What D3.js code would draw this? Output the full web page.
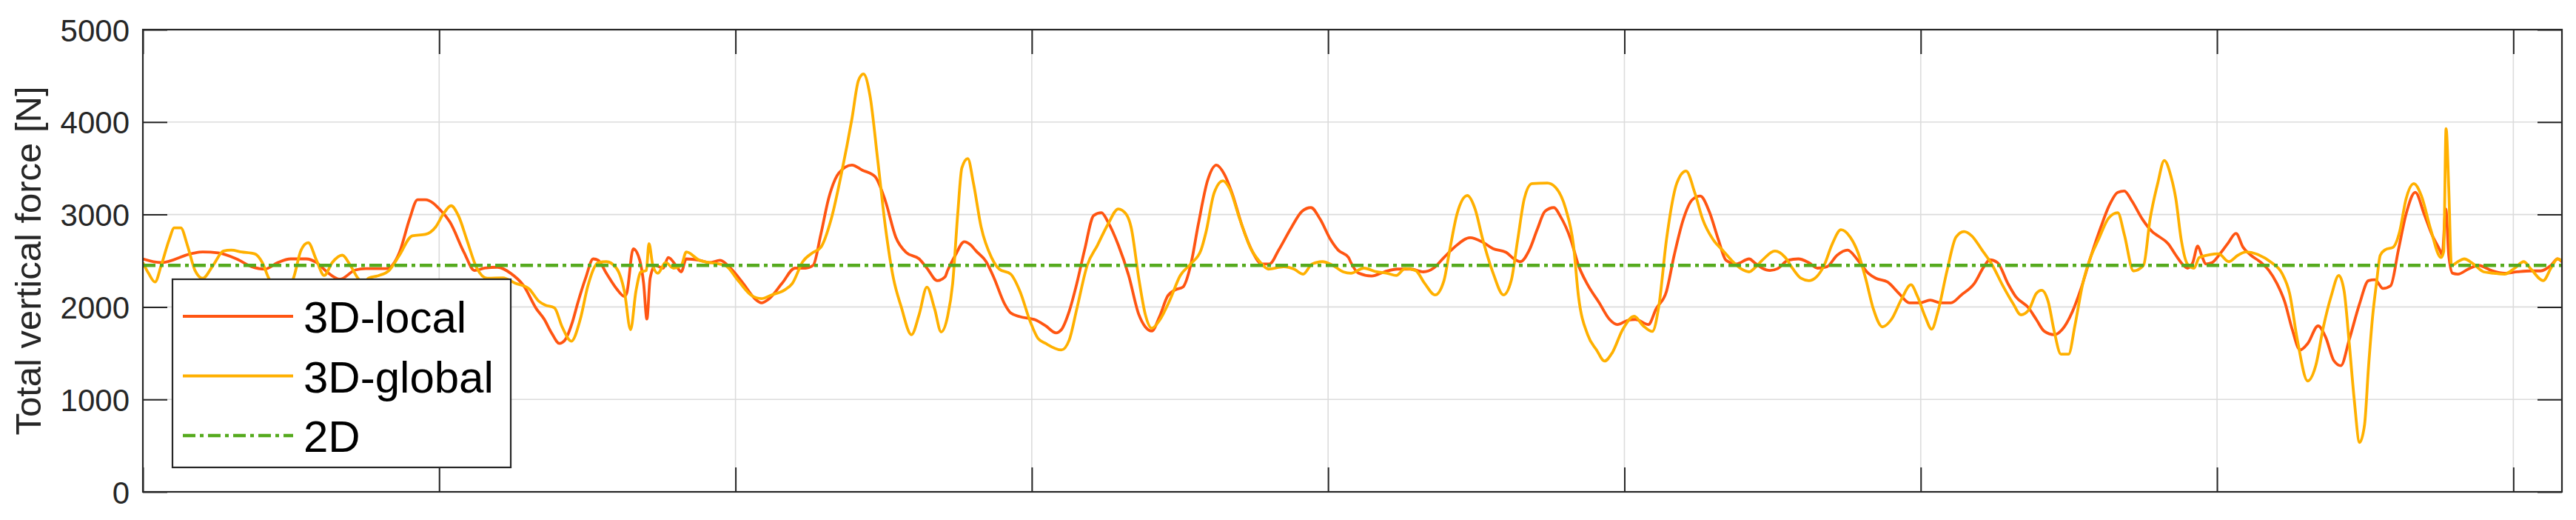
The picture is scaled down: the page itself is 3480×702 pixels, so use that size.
<!DOCTYPE html>
<html>
<head>
<meta charset="utf-8">
<script src="https://cdn.jsdelivr.net/npm/d3@7"></script>
<style>
  html, body { margin: 0; padding: 0; background: #ffffff; }
  svg { display: block; }
  text { font-family: "Liberation Sans", Arial, Helvetica, sans-serif; }
</style>
</head>
<body>
<svg id="chart" width="3480" height="702"></svg>
<script>
// ---------------- data ----------------
const seriesNames = ["3D-local", "3D-global", "2D"];

const localX = [0.000,0.062,0.167,0.202,0.254,0.316,0.368,0.412,0.455,0.499,0.551,0.586,0.621,0.665,0.717,0.752,0.822,0.866,0.900,0.927,0.953,1.005,1.036,1.084,1.119,1.154,1.197,1.241,1.285,1.328,1.354,1.380,1.406,1.424,1.450,1.467,1.494,1.520,1.537,1.564,1.598,1.625,1.633,1.655,1.677,1.690,1.701,1.712,1.729,1.756,1.773,1.799,1.817,1.834,1.878,1.913,1.948,1.983,2.026,2.070,2.087,2.114,2.157,2.201,2.236,2.262,2.288,2.314,2.349,2.393,2.428,2.471,2.506,2.541,2.576,2.620,2.646,2.681,2.707,2.716,2.742,2.772,2.794,2.812,2.846,2.873,2.908,2.929,2.960,3.012,3.047,3.082,3.100,3.126,3.152,3.178,3.209,3.235,3.257,3.292,3.327,3.361,3.383,3.405,3.431,3.458,3.484,3.510,3.536,3.562,3.593,3.623,3.650,3.676,3.711,3.746,3.776,3.802,3.833,3.877,3.912,3.942,3.973,4.008,4.034,4.069,4.077,4.103,4.147,4.190,4.234,4.278,4.321,4.356,4.391,4.426,4.479,4.522,4.557,4.601,4.627,4.649,4.679,4.706,4.732,4.762,4.784,4.819,4.845,4.876,4.915,4.950,4.976,5.011,5.037,5.081,5.107,5.142,5.168,5.199,5.229,5.256,5.286,5.317,5.343,5.378,5.421,5.439,5.465,5.491,5.517,5.552,5.587,5.622,5.652,5.683,5.718,5.753,5.788,5.823,5.849,5.888,5.927,5.962,5.997,6.032,6.067,6.102,6.137,6.181,6.216,6.233,6.259,6.294,6.320,6.364,6.390,6.416,6.451,6.477,6.512,6.538,6.573,6.608,6.635,6.665,6.687,6.713,6.748,6.783,6.800,6.835,6.861,6.887,6.900,6.918,6.935,6.948,6.962,6.983,7.010,7.036,7.064,7.088,7.114,7.149,7.175,7.202,7.228,7.254,7.280,7.306,7.341,7.367,7.394,7.418,7.446,7.481,7.511,7.533,7.560,7.586,7.612,7.638,7.669,7.699,7.725,7.752,7.760,7.772,7.782,7.795,7.813,7.848,7.883,7.926,7.970,8.013,8.057,8.092,8.127,8.149,8.164];
const localY = [2520,2480,2580,2595,2585,2520,2435,2410,2480,2520,2520,2480,2380,2300,2400,2415,2415,2590,2950,3160,3160,3045,2920,2590,2395,2420,2430,2365,2230,1980,1870,1715,1605,1640,1840,2035,2310,2520,2505,2365,2200,2115,2150,2630,2505,2255,1870,2310,2450,2420,2535,2450,2380,2520,2505,2480,2505,2420,2255,2075,2045,2090,2255,2420,2420,2450,2785,3170,3450,3535,3480,3410,3145,2755,2590,2520,2420,2285,2325,2395,2560,2705,2670,2605,2490,2310,2035,1935,1895,1860,1795,1720,1755,1950,2255,2615,2990,3020,2920,2670,2340,1920,1785,1740,1895,2115,2185,2215,2450,2895,3365,3535,3435,3230,2865,2590,2465,2465,2615,2865,3035,3075,2950,2730,2615,2535,2480,2365,2335,2380,2410,2410,2380,2420,2535,2645,2750,2700,2630,2590,2520,2490,2615,2840,3035,3075,2980,2730,2450,2240,2045,1865,1810,1855,1865,1810,1980,2170,2560,2950,3160,3200,3035,2730,2505,2465,2520,2480,2420,2395,2415,2505,2520,2480,2420,2435,2560,2615,2505,2365,2310,2270,2145,2045,2045,2075,2045,2045,2130,2255,2450,2510,2480,2255,2115,1990,1865,1740,1700,1755,1950,2170,2535,2865,3090,3240,3255,3145,2950,2810,2770,2685,2560,2450,2420,2480,2660,2560,2465,2480,2575,2685,2795,2645,2560,2480,2395,2255,2060,1755,1535,1605,1795,1670,1420,1365,1645,2035,2285,2295,2200,2230,2615,3005,3240,3005,2785,2615,2560,3060,2560,2365,2355,2410,2450,2395,2365,2380,2390,2390,2450,2520,2490];

const globalX = [0.000,0.019,0.041,0.062,0.089,0.106,0.128,0.150,0.176,0.202,0.237,0.272,0.298,0.333,0.377,0.403,0.425,0.468,0.508,0.534,0.558,0.586,0.612,0.639,0.673,0.700,0.726,0.743,0.761,0.796,0.831,0.866,0.909,0.953,0.988,1.014,1.040,1.066,1.093,1.127,1.162,1.215,1.258,1.302,1.337,1.358,1.389,1.415,1.446,1.476,1.502,1.537,1.564,1.598,1.625,1.646,1.664,1.681,1.699,1.708,1.721,1.738,1.764,1.791,1.817,1.834,1.878,1.913,1.965,2.009,2.052,2.087,2.122,2.166,2.192,2.227,2.262,2.288,2.323,2.358,2.393,2.415,2.432,2.454,2.480,2.506,2.533,2.559,2.594,2.620,2.646,2.672,2.694,2.716,2.733,2.750,2.764,2.784,2.803,2.829,2.864,2.890,2.929,2.960,2.995,3.021,3.047,3.100,3.126,3.152,3.187,3.222,3.257,3.292,3.318,3.335,3.361,3.383,3.405,3.431,3.466,3.501,3.536,3.571,3.588,3.615,3.645,3.667,3.702,3.737,3.772,3.798,3.850,3.885,3.916,3.946,3.981,4.016,4.051,4.077,4.121,4.164,4.199,4.230,4.260,4.295,4.326,4.361,4.391,4.409,4.435,4.470,4.496,4.522,4.557,4.592,4.618,4.640,4.662,4.688,4.740,4.767,4.802,4.828,4.845,4.876,4.906,4.933,4.959,4.994,5.033,5.064,5.094,5.116,5.142,5.177,5.208,5.238,5.264,5.299,5.334,5.369,5.395,5.421,5.439,5.465,5.508,5.543,5.569,5.596,5.622,5.648,5.674,5.700,5.731,5.762,5.788,5.814,5.840,5.871,5.901,5.936,5.967,5.989,6.015,6.037,6.058,6.089,6.119,6.146,6.172,6.207,6.242,6.277,6.312,6.338,6.364,6.390,6.408,6.430,6.451,6.473,6.499,6.521,6.547,6.573,6.600,6.635,6.665,6.687,6.718,6.752,6.774,6.800,6.822,6.844,6.861,6.879,6.900,6.922,6.940,6.975,7.005,7.040,7.071,7.097,7.140,7.184,7.219,7.245,7.271,7.306,7.333,7.359,7.385,7.411,7.429,7.446,7.463,7.481,7.498,7.511,7.525,7.538,7.551,7.568,7.594,7.616,7.638,7.664,7.690,7.721,7.756,7.765,7.773,7.782,7.791,7.813,7.834,7.865,7.900,7.935,7.970,8.005,8.035,8.057,8.101,8.127,8.149,8.164];
const globalY = [2480,2365,2270,2450,2730,2855,2855,2670,2395,2310,2450,2605,2615,2595,2575,2480,2310,2150,2310,2615,2695,2505,2340,2480,2560,2450,2310,2250,2310,2340,2395,2560,2770,2785,2865,3005,3095,2980,2730,2420,2310,2315,2255,2200,2060,2020,1990,1785,1630,1865,2230,2480,2490,2420,2170,1755,2170,2380,2395,2685,2450,2365,2480,2420,2450,2595,2505,2480,2450,2285,2130,2090,2130,2185,2255,2490,2590,2645,2950,3450,4035,4450,4520,4285,3590,2865,2310,2005,1700,1920,2215,1980,1730,1900,2255,3005,3505,3605,3340,2865,2535,2410,2355,2170,1840,1660,1605,1535,1640,1980,2450,2670,2895,3060,3005,2865,2310,1920,1770,1855,2075,2340,2465,2615,2810,3230,3365,3285,2950,2645,2480,2410,2435,2410,2355,2465,2490,2450,2380,2365,2420,2380,2365,2340,2415,2395,2255,2130,2285,2590,3005,3205,3060,2730,2365,2130,2285,2730,3170,3335,3340,3295,3060,2670,2115,1700,1535,1415,1505,1755,1900,1795,1735,2005,2730,3340,3470,3230,2950,2730,2605,2480,2410,2380,2420,2505,2605,2535,2410,2310,2285,2325,2450,2670,2835,2755,2590,2310,1980,1785,1865,2090,2240,2115,1895,1760,1950,2395,2755,2815,2770,2615,2450,2230,2035,1915,1965,2145,2180,2060,1730,1490,1490,1810,2255,2535,2730,2965,3020,2785,2390,2450,2950,3340,3585,3420,3170,2730,2465,2420,2535,2565,2575,2490,2560,2595,2565,2480,2365,2145,1645,1200,1365,1785,2115,2340,2170,1615,1000,535,730,1340,1895,2255,2560,2620,2645,2810,3170,3335,3200,2840,2535,2600,3930,3285,2450,2490,2520,2465,2380,2365,2355,2420,2490,2420,2285,2420,2520,2500];

const value2D = 2450;
const xTicks = [0, 1, 2, 3, 4, 5, 6, 7, 8];
const yTicks = [0, 1000, 2000, 3000, 4000, 5000];
const yLabel = "Total vertical force [N]";

(function () {
  // ---------------- layout ----------------
  const svg = d3.select("#chart");
  const pL = 193, pR = 3461, pT = 40, pB = 664;
  const xMax = 8.164;
  const x = d3.scaleLinear().domain([0, xMax]).range([pL, pR]);
  const y = d3.scaleLinear().domain([0, 5000]).range([pB, pT]);

  const axisColor = "#262626";
  const gridColor = "#dcdcdc";
  const colors = { local: "#ff5512", global: "#ffb000", twoD: "#55aa1e" };
  const tickLen = 33;
  const lw = 3.8;
  const dash2D = "17,6,5,6";

  svg.append("rect").attr("x", pL).attr("y", pT)
    .attr("width", pR - pL).attr("height", pB - pT).attr("fill", "#ffffff");

  // grid
  const grid = svg.append("g");
  grid.selectAll("line.gy").data(yTicks.filter(d => d > 0 && d < 5000)).enter().append("line")
    .attr("x1", pL).attr("x2", pR)
    .attr("y1", d => y(d)).attr("y2", d => y(d))
    .attr("stroke", gridColor).attr("stroke-width", 1.6);
  grid.selectAll("line.gx").data(xTicks.filter(d => d > 0)).enter().append("line")
    .attr("y1", pT).attr("y2", pB)
    .attr("x1", d => x(d)).attr("x2", d => x(d))
    .attr("stroke", gridColor).attr("stroke-width", 1.6);

  // lines
  svg.append("clipPath").attr("id", "plotclip").append("rect")
    .attr("x", pL).attr("y", pT).attr("width", pR - pL).attr("height", pB - pT);

  const lineGen = d3.line().x(d => x(d[0])).y(d => y(d[1])).curve(d3.curveMonotoneX);
  const n1 = Math.min(localX.length, localY.length);
  const n2 = Math.min(globalX.length, globalY.length);
  const localData = localX.slice(0, n1).map((v, i) => [v, localY[i]]);
  const globalData = globalX.slice(0, n2).map((v, i) => [v, globalY[i]]);

  const plot = svg.append("g").attr("clip-path", "url(#plotclip)");
  plot.append("path").datum(localData).attr("d", lineGen)
    .attr("fill", "none").attr("stroke", colors.local).attr("stroke-width", lw)
    .attr("stroke-linejoin", "round");
  plot.append("path").datum(globalData).attr("d", lineGen)
    .attr("fill", "none").attr("stroke", colors.global).attr("stroke-width", lw)
    .attr("stroke-linejoin", "round");
  plot.append("path").datum([[0, value2D], [xMax, value2D]])
    .attr("d", d3.line().x(d => x(d[0])).y(d => y(d[1])))
    .attr("fill", "none").attr("stroke", colors.twoD).attr("stroke-width", 4.6)
    .attr("stroke-dasharray", dash2D);

  // axes (box with inward ticks)
  const gL = svg.append("g").attr("transform", `translate(${pL},0)`)
    .call(d3.axisLeft(y).tickValues(yTicks).tickSize(-tickLen).tickPadding(18).tickFormat(d3.format("d")));
  gL.select(".domain").remove();
  gL.selectAll(".tick line").attr("stroke", axisColor).attr("stroke-width", 2);
  gL.selectAll(".tick text").attr("fill", axisColor).attr("font-size", 42)
    .attr("font-family", "Liberation Sans, Arial, sans-serif").attr("x", -18).attr("dy", "0.36em");

  const gR = svg.append("g").attr("transform", `translate(${pR},0)`)
    .call(d3.axisRight(y).tickValues(yTicks).tickSize(-tickLen).tickFormat(""));
  gR.select(".domain").remove();
  gR.selectAll(".tick line").attr("stroke", axisColor).attr("stroke-width", 2);

  const gB = svg.append("g").attr("transform", `translate(0,${pB})`)
    .call(d3.axisBottom(x).tickValues(xTicks).tickSize(-tickLen).tickFormat(""));
  gB.select(".domain").remove();
  gB.selectAll(".tick line").attr("stroke", axisColor).attr("stroke-width", 2);

  const gT = svg.append("g").attr("transform", `translate(0,${pT})`)
    .call(d3.axisTop(x).tickValues(xTicks).tickSize(-tickLen).tickFormat(""));
  gT.select(".domain").remove();
  gT.selectAll(".tick line").attr("stroke", axisColor).attr("stroke-width", 2);

  svg.append("rect").attr("x", pL).attr("y", pT)
    .attr("width", pR - pL).attr("height", pB - pT)
    .attr("fill", "none").attr("stroke", axisColor).attr("stroke-width", 2.2);

  // y label
  svg.append("text")
    .attr("transform", `translate(55,${(pT + pB) / 2}) rotate(-90)`)
    .attr("text-anchor", "middle")
    .attr("font-size", 49).attr("fill", axisColor)
    .text(yLabel);

  // legend
  const lg = svg.append("g");
  lg.append("rect").attr("x", 233).attr("y", 377).attr("width", 457).attr("height", 254)
    .attr("fill", "#ffffff").attr("stroke", axisColor).attr("stroke-width", 2.2);
  const legendItems = [
    { name: seriesNames[0], color: colors.local, dash: null, w: lw },
    { name: seriesNames[1], color: colors.global, dash: null, w: lw },
    { name: seriesNames[2], color: colors.twoD, dash: dash2D, w: 4.6 }
  ];
  legendItems.forEach((it, i) => {
    const cy = 427 + i * 80.5;
    const ln = lg.append("line").attr("x1", 247).attr("x2", 396).attr("y1", cy).attr("y2", cy)
      .attr("stroke", it.color).attr("stroke-width", it.w);
    if (it.dash) ln.attr("stroke-dasharray", it.dash);
    lg.append("text").attr("x", 410).attr("y", cy + 22)
      .attr("font-size", 60).attr("fill", "#000000").text(it.name);
  });
})();
</script>
</body>
</html>
